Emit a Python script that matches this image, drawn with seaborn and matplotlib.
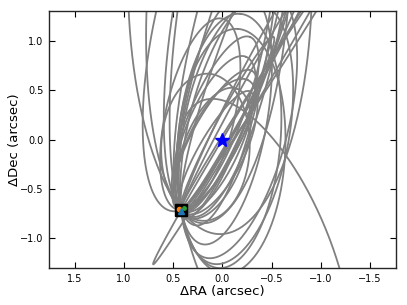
import numpy as np
import pandas as pd
import seaborn as sns
import matplotlib.pyplot as plt

# observed companion position (arcsec)
obs_ra, obs_dec = 0.42, -0.72

# apparent orbit ellipses:
# semi-major axis (arcsec), axis ratio b/a, major-axis angle (deg),
# and where on the ellipse the observed point sits (eccentric anomaly, deg)
semi_a = [2.6, 2.4, 2.2, 2.2, 2.0, 2.0, 1.8,
          1.0, 1.0, 0.95, 0.85, 0.75, 0.75, 0.8, 0.7, 0.7,
          1.3, 1.35, 1.25, 1.4, 1.3,
          1.8, 1.5, 1.6, 1.4,
          1.7, 1.9]
ratio = [0.36, 0.3, 0.25, 0.22, 0.2, 0.18, 0.15,
         0.1, 0.35, 0.3, 0.35, 0.6, 0.4, 0.3, 0.45, 0.25,
         0.4, 0.4, 0.44, 0.36, 0.33,
         0.03, 0.05, 0.04, 0.08,
         0.4, 0.3]
angle = [90, 94, 100, 98, 104, 108, 110,
         118, 103, 112, 112, 92, 115, 118, 110, 120,
         95, 100, 93, 104, 100,
         121, 119, 123, 117,
         68, 102]
ecc_anom = [205, 198, 192, 200, 190, 185, 195,
            180, 175, 178, 185, 210, 190, 172, 200, 182,
            235, 230, 240, 225, 220,
            229, 185, 175, 190,
            296, 170]

rows = []
t = np.linspace(0, 2 * np.pi, 500)
for k in range(len(semi_a)):
    phi = np.deg2rad(angle[k])
    a = semi_a[k]
    b = a * ratio[k]
    e0 = np.deg2rad(ecc_anom[k])
    # centre chosen so the ellipse goes through the observed point
    ox = a * np.cos(e0) * np.cos(phi) - b * np.sin(e0) * np.sin(phi)
    oy = a * np.cos(e0) * np.sin(phi) + b * np.sin(e0) * np.cos(phi)
    cx, cy = obs_ra - ox, obs_dec - oy
    x = cx + a * np.cos(t) * np.cos(phi) - b * np.sin(t) * np.sin(phi)
    y = cy + a * np.cos(t) * np.sin(phi) + b * np.sin(t) * np.cos(phi)
    rows.append(pd.DataFrame({'ra': x, 'dec': y, 'orbit': k}))
orbits = pd.concat(rows, ignore_index=True)

sns.set_style("ticks")
plt.rcParams['text.color'] = 'black'
plt.rcParams['axes.labelcolor'] = 'black'
plt.rcParams['xtick.color'] = 'black'
plt.rcParams['ytick.color'] = 'black'
fig = plt.figure(figsize=(4.07, 3.05), dpi=100)
ax = fig.add_axes([0.120, 0.121, 0.853, 0.843])

sns.lineplot(data=orbits, x='ra', y='dec', units='orbit', estimator=None, sort=False,
             color='grey', lw=1.3, ax=ax, legend=False)

ax.plot(0, 0, marker='*', color='blue', ms=10, ls='none', zorder=5)
ax.plot(obs_ra, obs_dec, marker='s', color='black', ms=8, ls='none', zorder=5)
ax.plot(obs_ra + 0.02, obs_dec + 0.01, marker='o', color='tab:orange', ms=3, ls='none', zorder=6)
ax.plot(obs_ra - 0.025, obs_dec + 0.025, marker='o', color='tab:green', ms=2.5, ls='none', zorder=6)
ax.plot(obs_ra, obs_dec - 0.01, marker='^', color='tab:blue', ms=5, ls='none', zorder=7)

ax.set_xlim(1.765, -1.765)
ax.set_ylim(-1.31, 1.31)
ax.set_xticks([1.5, 1.0, 0.5, 0.0, -0.5, -1.0, -1.5])
ax.set_yticks([-1.0, -0.5, 0.0, 0.5, 1.0])
ax.tick_params(direction='in', top=True, right=True, labelsize=7, length=4, pad=4)
ax.set_xlabel('ΔRA (arcsec)', fontsize=9.5)
ax.set_ylabel('ΔDec (arcsec)', fontsize=9.5)
ax.xaxis.set_label_coords(0.5, -0.065)
ax.yaxis.set_label_coords(-0.08, 0.5)
for s in ax.spines.values():
    s.set_linewidth(1.0)

fig.savefig('out.png', dpi=100)
